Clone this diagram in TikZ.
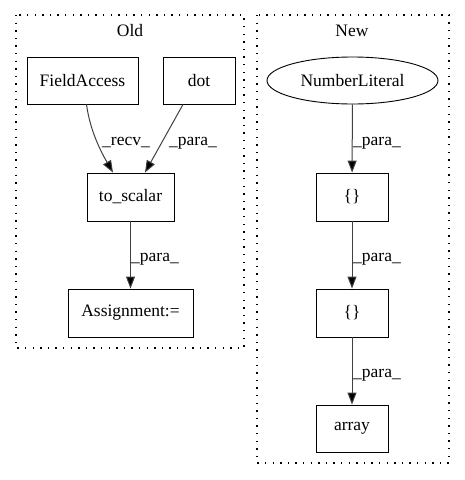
\documentclass[tikz,border=0pt]{standalone}
\usepackage{fontspec}
\setmainfont{Liberation Serif}
\usetikzlibrary{shapes.geometric,arrows.meta}
\begin{document}
\begin{tikzpicture}[x=1pt,y=-1pt,
  every node/.style={font=\fontsize{17.5}{20}\selectfont},
  box/.style={draw,line width=0.9pt,rectangle,inner sep=0pt},
  cluster/.style={draw,line width=1.3pt,dash pattern=on 1.4pt off 6.2pt},
  edge/.style={draw=black!75,line width=1pt,-{Triangle[length=12pt,width=9pt,fill=black]}},
  lbl/.style={font=\fontsize{17.5}{20}\selectfont,inner sep=1pt}]
\useasboundingbox (0,0) rectangle (464,480);
% clusters
\draw[cluster] (16,15) rectangle (244,348);
\node (oldl) at (130,31) {Old};
\draw[cluster] (257,15) rectangle (449,463);
\node (newl) at (352,31) {New};
% Old nodes
\node[box,minimum width=111pt,minimum height=47pt] (fa) at (82.5,80.5) {FieldAccess};
\node[box,minimum width=72pt,minimum height=47pt] (dot) at (199,80.5) {dot};
\node[box,minimum width=87pt,minimum height=48pt] (ts) at (130.5,197) {to\_scalar};
\node[box,minimum width=125pt,minimum height=48pt] (as) at (130.5,313) {Assignment:=};
% New nodes
\node[draw,ellipse,line width=0.9pt,minimum width=171pt,minimum height=47pt,inner sep=0pt] (nl) at (352.5,80.5) {NumberLiteral};
\node[box,minimum width=72pt,minimum height=48pt] (b1) at (352,197) {\{\}};
\node[box,minimum width=72pt,minimum height=48pt] (b2) at (352,313) {\{\}};
\node[box,minimum width=72pt,minimum height=47pt] (ar) at (352,428.5) {array};
% edges
\draw[edge] (fa.south) ++(4,0) coordinate (fas) .. controls (90,130) and (100,150) .. (ts.north -| 113,0) coordinate (tsa);
\draw[edge] (dot.south) ++(-16,0) coordinate (dts) -- (ts.north -| 145,0) coordinate (tsb);
\draw[edge] (ts) -- (as);
\draw[edge] (nl) -- (b1);
\draw[edge] (b1) -- (b2);
\draw[edge] (b2) -- (ar);
% labels
\node[lbl] (l1) at (126,143) {\_recv\_};
\node[lbl] (l2) at (193,143) {\_para\_};
\node[lbl] (l3) at (155,259) {\_para\_};
\node[lbl] (l4) at (377,143) {\_para\_};
\node[lbl] (l5) at (377,259) {\_para\_};
\node[lbl] (l6) at (377,375) {\_para\_};
\end{tikzpicture}
\end{document}
